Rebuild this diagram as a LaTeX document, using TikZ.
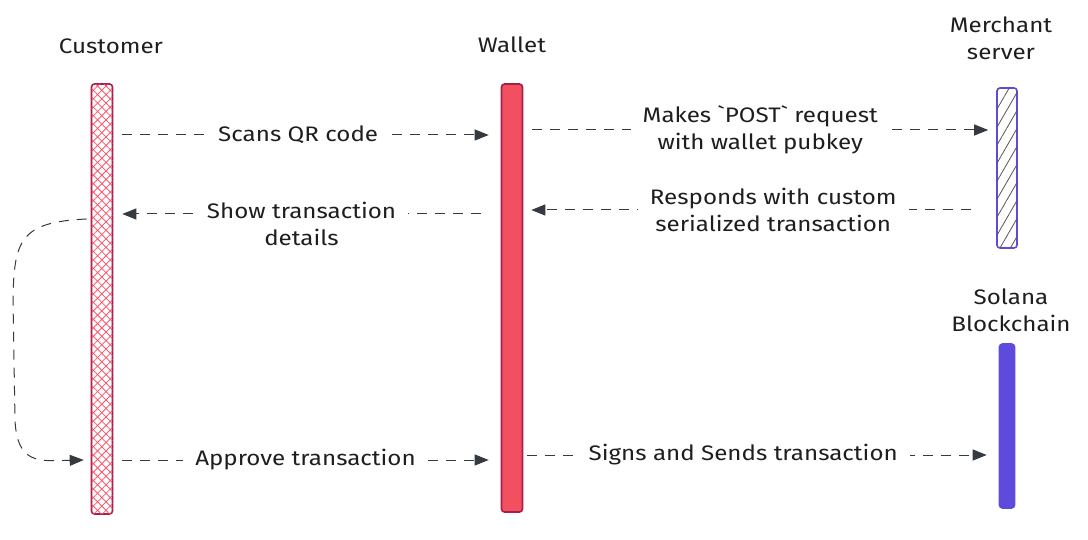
\documentclass[tikz,border=0pt]{standalone}
\usepackage{fontspec}
\setmainfont[FakeStretch=1.15]{Fira Sans}
\newfontfamily\plainfira[FakeStretch=1.15]{Fira Sans}
\newcommand{\bq}{{\plainfira\symbol{96}}}
\usetikzlibrary{arrows.meta,patterns.meta,calc}
\definecolor{ink}{HTML}{1E1E1E}
\definecolor{arr}{HTML}{343A40}
\definecolor{crim}{HTML}{A61E4D}
\definecolor{redfill}{HTML}{F25060}
\definecolor{hatchred}{HTML}{FA5468}
\definecolor{violet}{HTML}{5F4BDB}
\definecolor{hatchgray}{HTML}{555555}
\tikzset{
  lbl/.style={text=ink,font=\fontsize{21}{27}\selectfont,align=center},
  bar/.style={draw,line width=1.6pt,rounded corners=3pt,inner sep=0pt},
  conn/.style={draw=arr,line width=1pt,dash pattern=on 10pt off 8pt,-{Triangle[length=14pt,width=11pt]}},
  gaplbl/.style={lbl,fill=white,inner xsep=12pt,inner ysep=1pt}
}
\begin{document}
\begin{tikzpicture}[x=1pt,y=-1pt]
\useasboundingbox (0,0) rectangle (1088,540);
% headers
\node[lbl] (hcust) at (111,46) {Customer};
\node[lbl] (hwal) at (512,45) {Wallet};
\node[lbl] (hmer) at (1001,38) {Merchant\\server};
\node[lbl] (hsol) at (1011,310) {Solana\\Blockchain};
% lifeline bars
\node[bar,draw=crim,minimum width=21pt,minimum height=430pt,
  postaction={pattern={Lines[angle=45,distance=6pt,line width=0.8pt]},pattern color=hatchred},
  postaction={pattern={Lines[angle=-45,distance=6pt,line width=0.8pt]},pattern color=hatchred}]
  (cust) at (102,299) {};
\node[bar,draw=crim,fill=redfill,minimum width=21pt,minimum height=428pt] (wal) at (512,298) {};
\node[bar,draw=violet,minimum width=20pt,minimum height=160pt,
  postaction={pattern={Lines[angle=60,distance=9pt,line width=0.8pt]},pattern color=hatchgray}]
  (mer) at (1007,168) {};
\node[bar,draw=violet,fill=violet,minimum width=15pt,minimum height=164pt] (sol) at (1007,426) {};
% anchor points
\coordinate (y1) at (0,135);
\coordinate (y2) at (0,130);
\coordinate (y3) at (0,210);
\coordinate (y4) at (0,214);
\coordinate (y6) at (0,460);
\coordinate (y7) at (0,455);
% messages
\draw[conn] ([xshift=9pt]cust.east |- y1) -- node[gaplbl,pos=0.48] {Scans QR code} ([xshift=-12pt]wal.west |- y1);
\draw[conn] ([xshift=9pt]wal.east |- y2) -- node[gaplbl,pos=0.5] {Makes \bq POST\bq{} request\\with wallet pubkey} ([xshift=-8pt]mer.west |- y2);
\draw[conn] ([xshift=-25pt]mer.west |- y3) -- node[gaplbl,pos=0.45] {Responds with custom\\serialized transaction} ([xshift=8pt]wal.east |- y3);
\draw[conn] ([xshift=-20pt]wal.west |- y4) -- node[gaplbl,pos=0.5,anchor=north,yshift=13pt] {Show transaction\\details} ([xshift=9pt]cust.east |- y4);
\draw[conn] ([xshift=9pt]cust.east |- y6) -- node[gaplbl,pos=0.5] {Approve transaction} ([xshift=-12pt]wal.west |- y6);
\draw[conn] ([xshift=4pt]wal.east |- y7) -- node[gaplbl,pos=0.47] {Signs and Sends transaction} ([xshift=-12pt]sol.west |- y7);
% self loop
\draw[conn] ([xshift=-4pt]cust.west |- 0,219) .. controls (20,222) and (14,240) .. (13,300)
  -- (15,420) .. controls (17,465) and (40,461) .. ([xshift=-7pt]cust.west |- 0,460);
\end{tikzpicture}
\end{document}
